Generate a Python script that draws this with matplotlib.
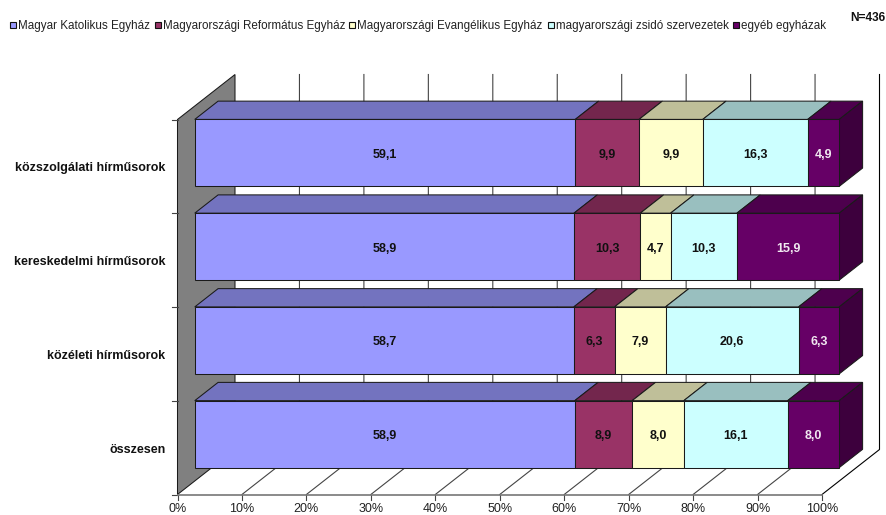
"""Egyházak megoszlása hírműsor-típusonként, Excel-stílusú 3D halmozott sávdiagram."""

import matplotlib

matplotlib.use("Agg")
import matplotlib.pyplot as plt
from matplotlib.colors import to_rgb
from matplotlib.patches import Polygon, Rectangle

plt.rcParams["font.family"] = ["Liberation Sans", "DejaVu Sans"]

categories = ["összesen", "közéleti hírműsorok", "kereskedelmi hírműsorok", "közszolgálati hírműsorok"]
series_names = [
    "Magyar Katolikus Egyház",
    "Magyarországi Református Egyház",
    "Magyarországi Evangélikus Egyház",
    "magyarországi zsidó szervezetek",
    "egyéb egyházak",
]
katolikus = [58.9, 58.7, 58.9, 59.1]
reformatus = [8.9, 6.3, 10.3, 9.9]
evangelikus = [8.0, 7.9, 4.7, 9.9]
zsido = [16.1, 20.6, 10.3, 16.3]
egyeb = [8.0, 6.3, 15.9, 4.9]
series = [katolikus, reformatus, evangelikus, zsido, egyeb]
colors = ["#9999FF", "#993366", "#FFFFCC", "#CCFFFF", "#660066"]
text_colors = ["#111111", "#111111", "#111111", "#111111", "#F0E8F0"]
x_ticks = list(range(0, 101, 10))

# pixel geometry of the plot box
W, H = 886, 515
X0_PX, PCT_PX = 177.5, 6.445
Y0_PX, CAT_PX = 494.5, 93.75
DEPTH_X = 57.5 / PCT_PX  # whole floor depth in data units
DEPTH_Y = 45.0 / CAT_PX
BAR_FRONT = 0.30
BAR_BACK = 0.706
GAP = 0.143
TEXT_NUDGE = 2 / CAT_PX  # Liberation sits higher than the Excel text


def proj(x, y, d=0.0):
    """Oblique projection: d=0 is the front of the floor, d=1 the back wall."""
    return (x + d * DEPTH_X, y + d * DEPTH_Y)


def shade(color, k):
    return tuple(c * k for c in to_rgb(color))


def draw_face(ax, pts, color, z):
    ax.add_patch(Polygon(pts, closed=True, facecolor=color, edgecolor="#1A1A1A", lw=0.75, zorder=z))


fig = plt.figure(figsize=(W / 100, H / 100), dpi=100)
ax = fig.add_axes([0, 0, 1, 1])
ax.set_xlim(-X0_PX / PCT_PX, (W - X0_PX) / PCT_PX)
ax.set_ylim(-(H - Y0_PX) / CAT_PX, Y0_PX / CAT_PX)
ax.axis("off")

n_cat = len(categories)

# left wall
draw_face(ax, [proj(0, 0), proj(0, n_cat), proj(0, n_cat, 1), proj(0, 0, 1)], "#808080", 1)

# gridlines on floor and back wall
for t in x_ticks:
    col = "#000000" if t == 100 else "#444444"
    if t > 0:
        ax.plot(*zip(proj(t, 0), proj(t, 0, 1), proj(t, n_cat, 1)), color=col, lw=0.8, zorder=1.5)
    ax.plot(*zip(proj(t, 0), (t, -5 / CAT_PX)), color="#444444", lw=0.8, zorder=1.5)
    ax.text(t, -14.5 / CAT_PX, f"{t}%", ha="center", va="center", fontsize=9, color="#222222")
ax.plot(*zip(proj(0, 0), proj(100, 0)), color="#777777", lw=1.2, zorder=1.6)

# category ticks and labels
for i in range(n_cat + 1):
    ax.plot([-0.9, 0], [i, i], color="#444444", lw=0.8, zorder=1.5)
for i, name in enumerate(categories):
    ax.text(
        -1.87, i + 0.5 - TEXT_NUDGE, name,
        ha="right", va="center", fontsize=9, fontweight="bold", color="#111111",
    )

# bars
for i in range(n_cat):
    total = sum(s[i] for s in series)
    left = 0.0
    y0, y1 = i + GAP, i + 1 - GAP
    for j, s in enumerate(series):
        w = s[i] / total * 100
        right = left + w
        c = colors[j]
        fx0, fy0 = proj(left, y0, BAR_FRONT)
        fx1, fy1 = proj(right, y1, BAR_FRONT)
        ax.add_patch(Rectangle((fx0, fy0), fx1 - fx0, fy1 - fy0, facecolor=c, edgecolor="#1A1A1A", lw=0.75, zorder=3))
        draw_face(
            ax,
            [proj(left, y1, BAR_FRONT), proj(right, y1, BAR_FRONT), proj(right, y1, BAR_BACK), proj(left, y1, BAR_BACK)],
            shade(c, 0.75),
            2.5,
        )
        if j == len(series) - 1:
            draw_face(
                ax,
                [proj(right, y0, BAR_FRONT), proj(right, y1, BAR_FRONT), proj(right, y1, BAR_BACK), proj(right, y0, BAR_BACK)],
                shade(c, 0.6),
                2.5,
            )
        ax.text(
            (fx0 + fx1) / 2,
            (fy0 + fy1) / 2 - TEXT_NUDGE,
            f"{s[i]:.1f}".replace(".", ","),
            ha="center",
            va="center",
            fontsize=9,
            fontweight="bold",
            color=text_colors[j],
            zorder=4,
        )
        left = right

# legend, drawn by hand to keep the Excel spacing
legend_x = [10, 155, 349, 548, 733]
for x_px, name, c in zip(legend_x, series_names, colors):
    lx = (x_px - X0_PX) / PCT_PX
    ly = (Y0_PX - 25) / CAT_PX
    ax.add_patch(
        Rectangle(
            (lx, ly - 3 / CAT_PX), 6 / PCT_PX, 6 / CAT_PX,
            facecolor=c, edgecolor="#111111", lw=0.8, zorder=3,
        )
    )
    ax.text(lx + 8 / PCT_PX, ly - 1 / CAT_PX, name, ha="left", va="center", fontsize=8.4, color="#222222")

ax.text(
    (885 - X0_PX) / PCT_PX, (Y0_PX - 18) / CAT_PX, "N=436",
    ha="right", va="center", fontsize=8.6, fontweight="bold", color="#111111",
)

fig.savefig("out.png", dpi=100)
plt.close(fig)
